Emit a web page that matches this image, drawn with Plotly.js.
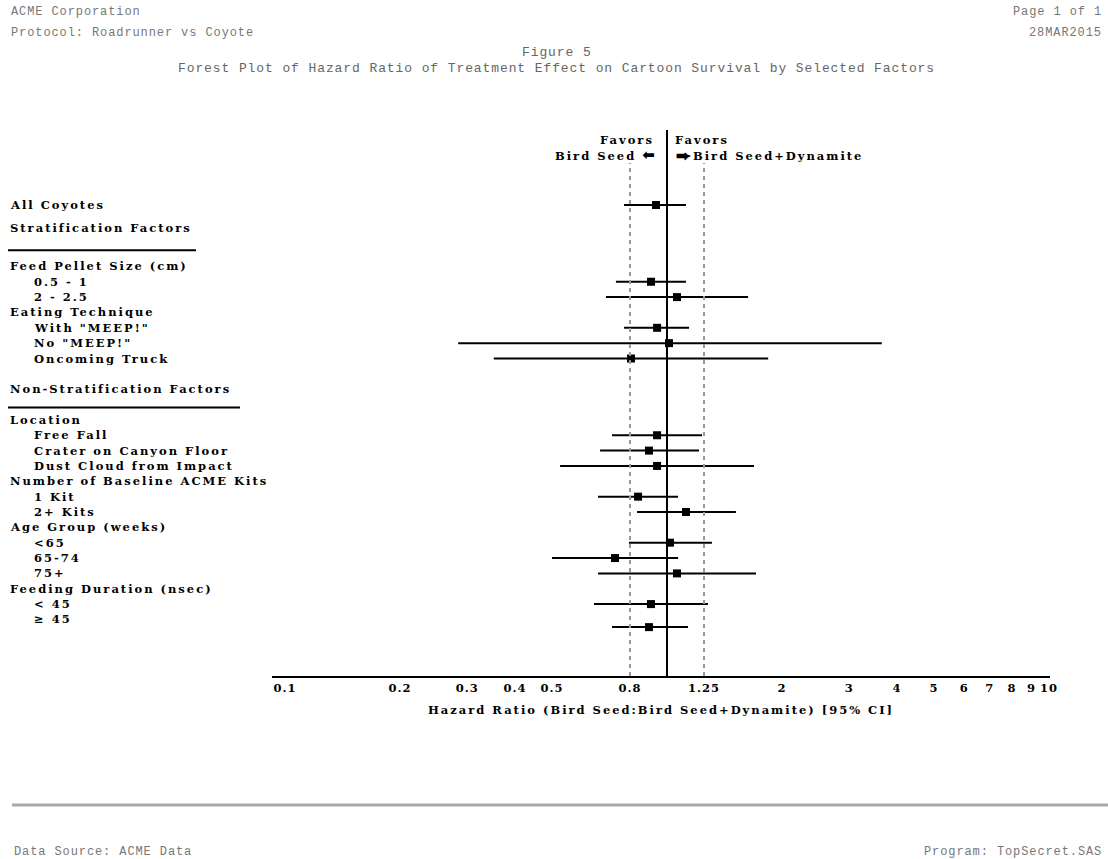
<!DOCTYPE html>
<html>
<head>
<meta charset="utf-8">
<script src="https://cdn.plot.ly/plotly-3.0.1.min.js"></script>
<style>
html,body{margin:0;padding:0;background:#fff;}
#chart{width:1108px;height:859px;}
.annotation-text[style*="Serif"]{letter-spacing:2px;}
.annotation-text[style*="Mono"]{letter-spacing:0.9px;}
.xtitle{letter-spacing:2px;}
.xtick text{letter-spacing:1px;}
</style>
</head>
<body>
<div id="chart"></div>
<script>
// ---- Data ----
const rowLabels = [
  "All Coyotes", "Stratification Factors",
  "Feed Pellet Size (cm)", "0.5 - 1", "2 - 2.5",
  "Eating Technique", "With \"MEEP!\"", "No \"MEEP!\"", "Oncoming Truck",
  "Non-Stratification Factors",
  "Location", "Free Fall", "Crater on Canyon Floor", "Dust Cloud from Impact",
  "Number of Baseline ACME Kits", "1 Kit", "2+ Kits",
  "Age Group (weeks)", "<65", "65-74", "75+",
  "Feeding Duration (nsec)", "< 45", "\u2265 45"
];
const rowIndex = [0, 1.5, 4, 5, 6, 7, 8, 9, 10, 12, 14, 15, 16, 17, 18, 19, 20, 21, 22, 23, 24, 25, 26, 27];
const rowIndent = [0, 0, 0, 1, 1, 0, 1, 1, 1, 0, 0, 1, 1, 1, 0, 1, 1, 0, 1, 1, 1, 0, 1, 1];

const subgroups = ["All Coyotes", "0.5 - 1", "2 - 2.5", "With \"MEEP!\"", "No \"MEEP!\"", "Oncoming Truck",
  "Free Fall", "Crater on Canyon Floor", "Dust Cloud from Impact", "1 Kit", "2+ Kits",
  "<65", "65-74", "75+", "< 45", "\u2265 45"];
const subgroupRow = [0, 5, 6, 8, 9, 10, 15, 16, 17, 19, 20, 22, 23, 24, 26, 27.5];
const hazardRatio = [0.936, 0.908, 1.062, 0.942, 1.012, 0.805, 0.942, 0.897, 0.942, 0.840, 1.121, 1.018, 0.731, 1.062, 0.908, 0.897];
const ciLower =     [0.772, 0.735, 0.692, 0.772, 0.284, 0.352, 0.718, 0.668, 0.525, 0.660, 0.835, 0.795, 0.500, 0.660, 0.644, 0.718];
const ciUpper =     [1.121, 1.121, 1.630, 1.142, 3.650, 1.840, 1.235, 1.213, 1.690, 1.069, 1.515, 1.311, 1.069, 1.710, 1.280, 1.135];

const tickVals = [0.1, 0.2, 0.3, 0.4, 0.5, 0.8, 1.25, 2, 3, 4, 5, 6, 7, 8, 9, 10];
const tickText = ["0.1", "0.2", "0.3", "0.4", "0.5", "0.8", "1.25", "2", "3", "4", "5", "6", "7", "8", "9", "10"];
const refLines = [0.8, 1.25];

// ---- Layout helpers (pixel -> paper) ----
const W = 1108, H = 859;
const PL = 272, PR = 1050, PT = 130, PB = 676;
const pw = PR - PL, ph = PB - PT;
const px = X => (X - PL) / pw;
const py = Y => (PB - Y) / ph;
const ROW0 = 205, ROWH = 15.35;
const yTop = (PT - ROW0) / ROWH, yBot = (PB - ROW0) / ROWH;

const serif = "DejaVu Serif, Liberation Serif, serif";
const mono = "Liberation Mono, DejaVu Sans Mono, monospace";
const lblFont = {family: serif, size: 11.5, color: "#000", weight: "bold"};
const hdrFont = {family: mono, size: 12, color: "#777"};
const arrowSpan = s => '<span style="font-family:DejaVu Sans;font-size:15px">' + s + '</span>';

const annotations = [];
rowLabels.forEach((t, i) => {
  annotations.push({
    text: "<b>" + t.replace(/</g, "&lt;") + "</b>", xref: "paper", yref: "y",
    x: px(8 + rowIndent[i] * 24), y: rowIndex[i],
    xanchor: "left", yanchor: "middle", showarrow: false, font: lblFont
  });
});

// favors header
annotations.push({text: "<b>Favors</b>", xref: "paper", yref: "paper", x: px(598), y: py(140),
  xanchor: "left", yanchor: "middle", showarrow: false, font: lblFont});
annotations.push({text: "<b>Bird Seed " + arrowSpan("\u2b05") + "</b>", xref: "paper", yref: "paper", x: px(553), y: py(155),
  xanchor: "left", yanchor: "middle", showarrow: false, font: lblFont});
annotations.push({text: "<b>Favors</b>", xref: "paper", yref: "paper", x: px(673), y: py(140),
  xanchor: "left", yanchor: "middle", showarrow: false, font: lblFont});
annotations.push({text: "<b>" + arrowSpan("\u2b95") + "Bird Seed+Dynamite</b>", xref: "paper", yref: "paper", x: px(674), y: py(155),
  xanchor: "left", yanchor: "middle", showarrow: false, font: lblFont});

// page header/footer
annotations.push({text: "ACME Corporation", xref: "paper", yref: "paper", x: px(9), y: py(12),
  xanchor: "left", yanchor: "middle", showarrow: false, font: hdrFont});
annotations.push({text: "Protocol: Roadrunner vs Coyote", xref: "paper", yref: "paper", x: px(9), y: py(33),
  xanchor: "left", yanchor: "middle", showarrow: false, font: hdrFont});
annotations.push({text: "Page 1 of 1", xref: "paper", yref: "paper", x: px(1104), y: py(12),
  xanchor: "right", yanchor: "middle", showarrow: false, font: hdrFont});
annotations.push({text: "28MAR2015", xref: "paper", yref: "paper", x: px(1104), y: py(33),
  xanchor: "right", yanchor: "middle", showarrow: false, font: hdrFont});
annotations.push({text: "Figure 5", xref: "paper", yref: "paper", x: px(557), y: py(52),
  xanchor: "center", yanchor: "middle", showarrow: false, font: {family: mono, size: 13, color: "#666"}});
annotations.push({text: "Forest Plot of Hazard Ratio of Treatment Effect on Cartoon Survival by Selected Factors",
  xref: "paper", yref: "paper", x: px(556), y: py(69),
  xanchor: "center", yanchor: "middle", showarrow: false, font: {family: mono, size: 13, color: "#666"}});
annotations.push({text: "Data Source: ACME Data", xref: "paper", yref: "paper", x: px(12), y: py(852),
  xanchor: "left", yanchor: "middle", showarrow: false, font: hdrFont});
annotations.push({text: "Program: TopSecret.SAS", xref: "paper", yref: "paper", x: px(1104), y: py(852),
  xanchor: "right", yanchor: "middle", showarrow: false, font: hdrFont});

const shapes = [
  {type: "line", xref: "x", yref: "paper", x0: 1, x1: 1, y0: 0, y1: 1, line: {color: "#000", width: 2}},
  {type: "line", xref: "paper", yref: "y", x0: px(8), x1: px(196), y0: 2.95, y1: 2.95, line: {color: "#000", width: 2}},
  {type: "line", xref: "paper", yref: "y", x0: px(8), x1: px(240), y0: 13.2, y1: 13.2, line: {color: "#000", width: 2}},
  {type: "line", xref: "paper", yref: "paper", x0: px(12), x1: px(1108), y0: py(805), y1: py(805), line: {color: "#aaa", width: 3}}
];
refLines.forEach(v => shapes.push({type: "line", xref: "x", yref: "paper", x0: v, x1: v, y0: 0, y1: py(163),
  line: {color: "#999", width: 2, dash: "4px,4px"}}));

const trace = {
  type: "scatter", mode: "markers",
  x: hazardRatio, y: subgroupRow, text: subgroups,
  marker: {symbol: "square", size: 8, color: "#000"},
  error_x: {type: "data", symmetric: false,
    array: hazardRatio.map((h, i) => ciUpper[i] - h),
    arrayminus: hazardRatio.map((h, i) => h - ciLower[i]),
    color: "#000", thickness: 2, width: 0},
  hoverinfo: "text+x", showlegend: false, cliponaxis: false
};

// 0.1 at x=285, 1 at x=667  (382 px per decade)
const DEC = 382, X1 = 667;
const logAt = X => (X - X1) / DEC;

const layout = {
  width: W, height: H,
  margin: {l: PL, r: W - PR, t: PT, b: H - PB, pad: 0},
  paper_bgcolor: "#fff", plot_bgcolor: "#fff",
  showlegend: false,
  xaxis: {
    type: "log", range: [logAt(PL), logAt(PR)],
    tickvals: tickVals, ticktext: tickText,
    showgrid: false, zeroline: false,
    showline: true, linecolor: "#000", linewidth: 2,
    ticks: "", ticklen: 0,
    tickfont: {family: serif, size: 11.5, color: "#000", weight: "bold"},
    title: {text: "<b>Hazard Ratio (Bird Seed:Bird Seed+Dynamite) [95% CI]</b>", standoff: 12,
      font: {family: serif, size: 11.5, color: "#000"}},
    fixedrange: true
  },
  yaxis: {
    range: [yBot, yTop], showgrid: false, zeroline: false, showline: false,
    showticklabels: false, ticks: "", fixedrange: true
  },
  annotations: annotations,
  shapes: shapes
};

Plotly.newPlot("chart", [trace], layout, {displayModeBar: false, staticPlot: true});
</script>
</body>
</html>
